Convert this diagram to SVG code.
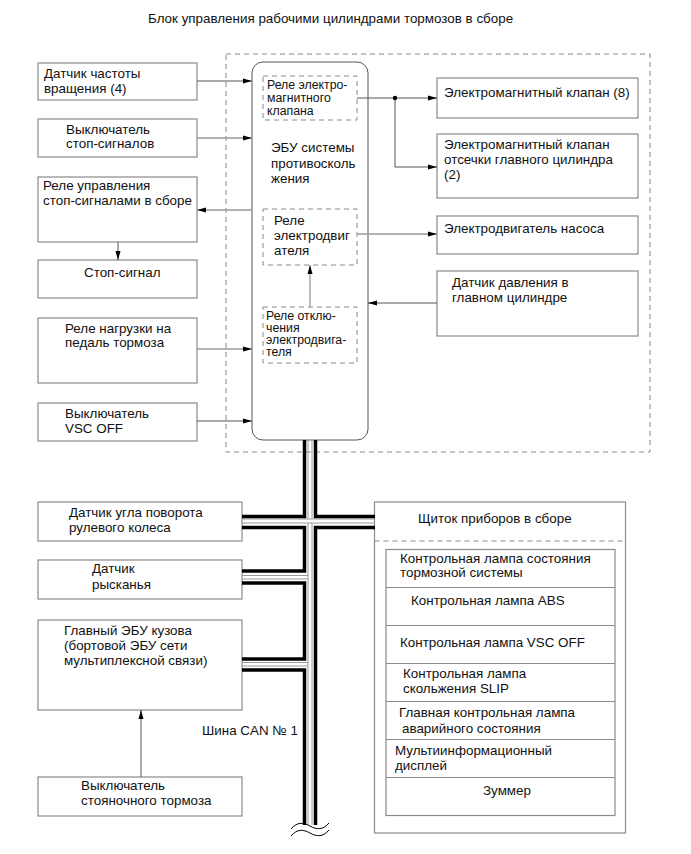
<svg xmlns="http://www.w3.org/2000/svg" width="691" height="854" viewBox="0 0 691 854">
<defs>
<style>
text{font-family:"Liberation Sans",Arial,sans-serif;font-size:13.4px;fill:#111}
.sm{font-size:12.3px}
.box{fill:#fff;stroke:#8a8a8a;stroke-width:1.2}
.dash{fill:none;stroke:#8a8a8a;stroke-width:1;stroke-dasharray:5,4}
.ln{fill:none;stroke:#555;stroke-width:1}
.lg{fill:none;stroke:#999;stroke-width:1.3}
.bk{fill:none;stroke:#000;stroke-width:3.5}
.th{fill:none;stroke:#9a9a9a;stroke-width:1}
</style>
<marker id="ah" markerWidth="10" markerHeight="8" refX="9" refY="4" orient="auto" markerUnits="userSpaceOnUse">
<path d="M0,1.5 L9,4 L0,6.5 Z" fill="#000"/>
</marker>
</defs>
<rect width="691" height="854" fill="#fff"/>
<text x="148" y="23" font-size="14.1">Блок управления рабочими цилиндрами тормозов в сборе</text>

<rect class="dash" x="226" y="54" width="424" height="398"/>

<g id="ecu">
<rect x="252" y="62" width="116" height="378" rx="11" fill="#fff" stroke="#555" stroke-width="1"/>
<text x="271" y="152">ЭБУ системы</text>
<text x="271" y="168">противосколь</text>
<text x="271" y="183">жения</text>
</g>
<g id="relay-valve">
<rect class="dash" x="263" y="76" width="94" height="44"/>
<text class="sm" x="267" y="89">Реле электро-</text>
<text class="sm" x="267" y="102">магнитного</text>
<text class="sm" x="267" y="114.5">клапана</text>
</g>
<g id="relay-motor">
<rect class="dash" x="263" y="209" width="94" height="56"/>
<text x="274" y="225">Реле</text>
<text x="274" y="240">электродвиг</text>
<text x="274" y="255">ателя</text>
</g>
<g id="relay-cut">
<rect class="dash" x="263" y="307" width="94" height="56"/>
<text class="sm" x="266" y="319.5">Реле отклю-</text>
<text class="sm" x="266" y="331.5">чения</text>
<text class="sm" x="266" y="343.5">электродвига-</text>
<text class="sm" x="266" y="355.5">теля</text>
</g>

<g id="speed-sensor"><rect class="box" x="38" y="63" width="159" height="37"/>
<text x="44" y="78">Датчик частоты</text><text x="44" y="93">вращения (4)</text></g>
<g id="stop-switch"><rect class="box" x="38" y="119" width="159" height="38"/>
<text x="66" y="134">Выключатель</text><text x="66" y="148">стоп-сигналов</text></g>
<g id="stop-relay"><rect class="box" x="38" y="177" width="159" height="65"/>
<text x="43" y="190">Реле управления</text><text x="43" y="205">стоп-сигналами в сборе</text></g>
<g id="stop-lamp"><rect class="box" x="38" y="260" width="159" height="38"/>
<text x="84" y="277">Стоп-сигнал</text></g>
<g id="pedal-relay"><rect class="box" x="38" y="318" width="159" height="65"/>
<text x="65" y="333">Реле нагрузки на</text><text x="65" y="347">педаль тормоза</text></g>
<g id="vsc-switch"><rect class="box" x="38" y="403" width="159" height="38"/>
<text x="65" y="418">Выключатель</text><text x="65" y="433">VSC OFF</text></g>

<g id="valve8"><rect class="box" x="437" y="78" width="201" height="40"/>
<text x="444" y="97">Электромагнитный клапан (8)</text></g>
<g id="valve-cut"><rect class="box" x="437" y="134" width="201" height="64"/>
<text x="444" y="149">Электромагнитный клапан</text><text x="444" y="164">отсечки главного цилиндра</text><text x="444" y="179">(2)</text></g>
<g id="pump-motor"><rect class="box" x="437" y="216" width="201" height="38"/>
<text x="444" y="233">Электродвигатель насоса</text></g>
<g id="pressure-sensor"><rect class="box" x="437" y="271" width="201" height="65"/>
<text x="452" y="287">Датчик давления в</text><text x="452" y="302">главном цилиндре</text></g>

<g id="steer-sensor"><rect class="box" x="38" y="502" width="204" height="39"/>
<text x="69" y="517">Датчик угла поворота</text><text x="69" y="532">рулевого колеса</text></g>
<g id="yaw-sensor"><rect class="box" x="38" y="560" width="204" height="39"/>
<text x="92" y="573">Датчик</text><text x="92" y="589">рысканья</text></g>
<g id="body-ecu"><rect class="box" x="38" y="620" width="204" height="90"/>
<text x="64" y="635">Главный ЭБУ кузова</text><text x="64" y="650">(бортовой ЭБУ сети</text><text x="64" y="665">мультиплексной связи)</text></g>
<g id="park-switch"><rect class="box" x="38" y="777" width="204" height="39"/>
<text x="81" y="790">Выключатель</text><text x="81" y="805">стояночного тормоза</text></g>

<g id="meter">
<rect class="box" x="374.5" y="502" width="251" height="331"/>
<line class="dash" x1="374.5" y1="541" x2="625.5" y2="541"/>
<text x="418" y="523">Щиток приборов в сборе</text>
<rect class="box" x="386" y="549.5" width="229" height="266"/>
<g stroke="#8a8a8a" stroke-width="1.2">
<line x1="386" y1="587.5" x2="615" y2="587.5"/>
<line x1="386" y1="625.5" x2="615" y2="625.5"/>
<line x1="386" y1="663.5" x2="615" y2="663.5"/>
<line x1="386" y1="701.5" x2="615" y2="701.5"/>
<line x1="386" y1="739.5" x2="615" y2="739.5"/>
<line x1="386" y1="777.5" x2="615" y2="777.5"/>
</g>
<text x="400" y="563">Контрольная лампа состояния</text><text x="400" y="577">тормозной системы</text>
<text x="411" y="605">Контрольная лампа ABS</text>
<text x="400" y="647">Контрольная лампа VSC OFF</text>
<text x="403" y="678">Контрольная лампа</text><text x="403" y="693">скольжения SLIP</text>
<text x="399" y="717">Главная контрольная лампа</text><text x="402" y="733">аварийного состояния</text>
<text x="395" y="755">Мультиинформационный</text><text x="395" y="770">дисплей</text>
<text x="483" y="795">Зуммер</text>
</g>

<text x="202" y="735">Шина CAN № 1</text>

<g id="connectors">
<line class="ln" x1="197" y1="81" x2="252" y2="81" marker-end="url(#ah)"/>
<line class="lg" x1="197" y1="138" x2="252" y2="138" marker-end="url(#ah)"/>
<line class="lg" x1="252" y1="210" x2="197" y2="210" marker-end="url(#ah)"/>
<line class="ln" x1="118" y1="242" x2="118" y2="260" marker-end="url(#ah)"/>
<line class="lg" x1="197" y1="349" x2="252" y2="349" marker-end="url(#ah)"/>
<line class="ln" x1="197" y1="421" x2="252" y2="421" marker-end="url(#ah)"/>
<line class="ln" x1="357" y1="98" x2="437" y2="98" marker-end="url(#ah)"/>
<polyline class="ln" points="395,98 395,167 437,167" marker-end="url(#ah)"/>
<circle cx="395" cy="98" r="2.2" fill="#000"/>
<line class="lg" x1="357" y1="234" x2="437" y2="234" marker-end="url(#ah)"/>
<line class="ln" x1="437" y1="303" x2="368" y2="303" marker-end="url(#ah)"/>
<line class="lg" x1="310" y1="307" x2="310" y2="265" marker-end="url(#ah)"/>
<line class="ln" x1="141" y1="777" x2="141" y2="710" marker-end="url(#ah)"/>

<path class="th" d="M308,440 V519 M312,440 V519 M308,523 V825 M312,523 V825"/>
<path class="th" d="M242,519 H375 M242,523 H375"/>
<path class="th" d="M242,575.5 H308 M242,579 H308"/>
<path class="th" d="M242,662.5 H308 M242,666 H308"/>
<path class="bk" d="M304.5,440 V516.5 H242"/>
<path class="bk" d="M242,527.5 H304.5 V571 H242"/>
<path class="bk" d="M242,583 H304.5 V659 H242"/>
<path class="bk" d="M242,670 H304.5 V825"/>
<path class="bk" d="M315.5,440 V516.5 H375"/>
<path class="bk" d="M375,527.5 H315.5 V825"/>
<path fill="none" stroke="#000" stroke-width="1" d="M291,829 C297,822 303,822 310,826 C317,830 323,830 329,823 M291,836 C297,829 303,829 310,833 C317,837 323,837 329,830"/>
</g>
</svg>
